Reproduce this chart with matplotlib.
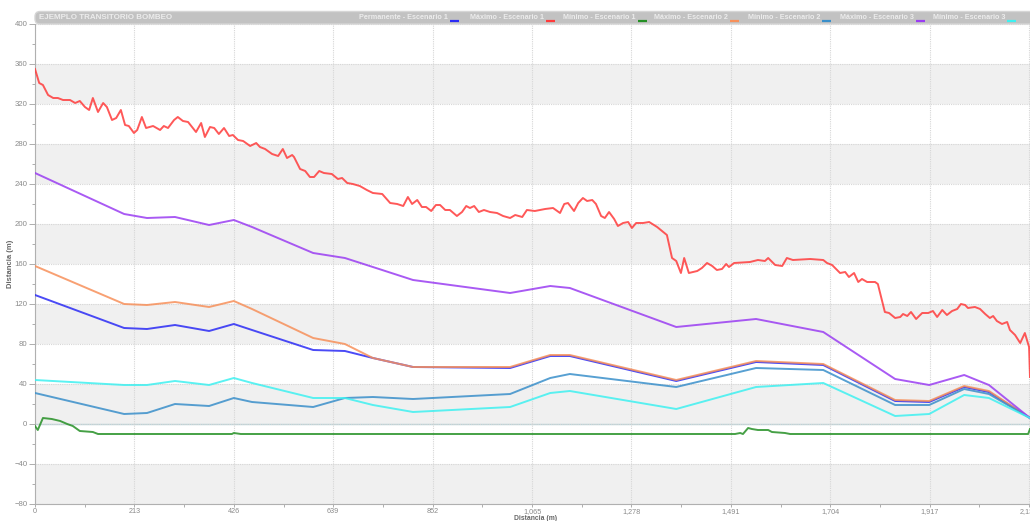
import matplotlib
matplotlib.use('Agg')
import matplotlib.pyplot as plt
from matplotlib.patches import FancyBboxPatch
from matplotlib.ticker import FuncFormatter, MultipleLocator, FixedLocator

plt.rcParams['font.family'] = ['Liberation Sans', 'DejaVu Sans']

W, H = 1030, 521

# Nodos del perfil (m) compartidos por las envolventes suaves
nodos = [0, 191, 240, 300, 373, 426, 465, 596, 664, 724, 810, 1018, 1104, 1146,
         1374, 1545, 1689, 1843, 1916, 1991, 2044, 2132]

permanente_e1 = [129, 96, 95, 99, 93, 100, 94, 74, 73, 66, 57, 56, 68, 68,
                 43, 62, 59, 23, 22, 37, 32, 6]
maximo_e2 = [158, 120, 119, 122, 117, 123, 115, 86, 80, 66, 57, 57, 69, 69,
             44, 63, 60, 24, 23, 38, 33, 6]
minimo_e2 = [31, 10, 11, 20, 18, 26, 22, 17, 26, 27, 25, 30, 46, 50,
             37, 56, 54, 19, 19, 35, 30, 6]
maximo_e3 = [251, 210, 206, 207, 199, 204, 197, 171, 166, 157, 144, 131, 138, 136,
             97, 105, 92, 45, 39, 49, 39, 6]
minimo_e3 = [44, 39, 39, 43, 39, 46, 41, 26, 26, 19, 12, 17, 31, 33,
             15, 37, 41, 8, 10, 29, 26, 6]

# Máximo - Escenario 1 (registro denso)
max_e1_x = [0, 9, 17, 28, 39, 49, 60, 75, 86, 96, 107, 116, 124, 135, 146, 154, 165, 174,
            184, 193, 201, 212, 219, 229, 238, 253, 268, 276, 285, 298, 306, 317, 328, 345,
            356, 364, 375, 384, 394, 405, 416, 424, 435, 446, 461, 474, 482, 493, 508, 521,
            531, 540, 551, 555, 568, 579, 589, 598, 609, 619, 636, 649, 658, 669, 681, 696,
            711, 724, 744, 761, 776, 789, 799, 808, 819, 829, 838, 849, 859, 868, 879, 889,
            904, 915, 924, 932, 941, 951, 962, 975, 990, 1003, 1018, 1029, 1044, 1054, 1071,
            1093, 1110, 1125, 1134, 1142, 1155, 1164, 1174, 1183, 1194, 1202, 1213, 1221,
            1230, 1241, 1249, 1260, 1271, 1279, 1288, 1303, 1316, 1333, 1354, 1365, 1374,
            1384, 1391, 1401, 1419, 1429, 1440, 1451, 1461, 1472, 1481, 1487, 1498, 1532,
            1549, 1564, 1571, 1586, 1601, 1611, 1624, 1661, 1689, 1697, 1708, 1725, 1736,
            1744, 1755, 1764, 1772, 1783, 1800, 1806, 1815, 1821, 1830, 1843, 1854, 1860,
            1869, 1877, 1888, 1901, 1914, 1924, 1933, 1944, 1954, 1965, 1976, 1984, 1993,
            1999, 2014, 2025, 2036, 2046, 2053, 2061, 2072, 2083, 2089, 2100, 2111, 2121,
            2130, 2132]
max_e1_y = [355, 341, 339, 329, 326, 326, 324, 324, 321, 323, 317, 314, 326, 312, 321, 317,
            304, 306, 314, 299, 298, 291, 294, 307, 296, 298, 294, 298, 296, 304, 307, 303,
            302, 292, 301, 287, 297, 296, 290, 296, 288, 289, 284, 283, 278, 281, 277, 275,
            270, 268, 275, 266, 269, 267, 255, 253, 247, 247, 253, 251, 250, 245, 246, 241,
            240, 238, 234, 231, 230, 221, 220, 218, 227, 220, 224, 217, 217, 213, 219, 219,
            214, 214, 208, 212, 218, 216, 218, 212, 214, 212, 211, 208, 206, 209, 207, 214,
            213, 215, 216, 211, 220, 221, 213, 221, 226, 223, 224, 220, 208, 206, 212, 205,
            198, 201, 202, 196, 201, 201, 202, 197, 189, 166, 163, 151, 166, 151, 153, 156,
            161, 158, 154, 155, 160, 157, 161, 162, 164, 163, 166, 159, 158, 166, 164, 165,
            164, 161, 159, 151, 152, 147, 151, 142, 145, 142, 142, 140, 123, 112, 111, 106,
            107, 110, 108, 112, 105, 111, 111, 113, 107, 114, 109, 113, 115, 120, 119, 116,
            117, 115, 110, 106, 108, 103, 100, 102, 94, 89, 81, 91, 77, 47]

# Mínimo - Escenario 1
min_e1_x = [0, 6, 17, 36, 54, 69, 81, 96, 124, 135, 422, 426, 441, 1500, 1511, 1517,
            1528, 1536, 1549, 1571, 1579, 1607, 1618, 2128, 2132]
min_e1_y = [-2, -6, 6, 5, 3, 0, -2, -7, -8, -10, -10, -9, -10, -10, -9, -10,
            -4, -5, -6, -6, -8, -9, -10, -10, -5]

series = [
    ('Permanente - Escenario 1', nodos, permanente_e1, '#2b2bf5'),
    ('Máximo - Escenario 1', max_e1_x, max_e1_y, '#ff3b3b'),
    ('Mínimo - Escenario 1', min_e1_x, min_e1_y, '#259025'),
    ('Máximo - Escenario 2', nodos, maximo_e2, '#f7905a'),
    ('Mínimo - Escenario 2', nodos, minimo_e2, '#3a8fca'),
    ('Máximo - Escenario 3', nodos, maximo_e3, '#9a3df2'),
    ('Mínimo - Escenario 3', nodos, minimo_e3, '#3ef0f0'),
]

x_ticks = [0, 213, 426, 639, 852, 1065, 1278, 1491, 1704, 1917, 2130]

fig = plt.figure(figsize=(W / 100, H / 100), dpi=100)
fig.patch.set_facecolor('white')
ax = fig.add_axes([35 / W, 1 - 504 / H, 995 / W, 480 / H])
ax.set_xlim(0, 2132)
ax.set_ylim(-80, 400)

# bandas alternas
for y0 in range(-80, 400, 80):
    ax.axhspan(y0, y0 + 40, color='#f0f0f0', zorder=0, lw=0)
ax.axhline(0, color='#b9d3d8', lw=1.0, zorder=1)

for name, xs, ys, col in series:
    ax.plot(xs, ys, color=col, lw=1.4, alpha=0.85, zorder=3, solid_joinstyle='round')

ax.xaxis.set_major_locator(FixedLocator(x_ticks))
ax.xaxis.set_minor_locator(FixedLocator([t + 106.5 for t in x_ticks]))
ax.yaxis.set_major_locator(MultipleLocator(40))
ax.yaxis.set_minor_locator(MultipleLocator(20))
ax.xaxis.set_major_formatter(FuncFormatter(lambda v, p: f'{v:,.0f}'))
ax.grid(True, which='major', color='#d6d6d6', lw=0.8, ls=(0, (1, 1)), zorder=1)
ax.tick_params(which='both', colors='#a0a0a0', labelcolor='#8a8a8a', labelsize=5.6,
               direction='out', width=0.6)
ax.tick_params(which='major', length=4, pad=1.5)
ax.tick_params(axis='x', which='major', length=2.5, pad=0.5, labelsize=5.2)
ax.tick_params(which='minor', length=2)
for side in ('top', 'right'):
    ax.spines[side].set_visible(False)
for side in ('left', 'bottom'):
    ax.spines[side].set_color('#b0b0b0')
    ax.spines[side].set_linewidth(0.8)

ax.set_ylabel('Distancia (m)', fontsize=5.5, fontweight='bold', color='#666666')
ax.yaxis.set_label_coords(-0.021, 0.5)
fig.text(535 / W, 1.2 / H, 'Distancia (m)', fontsize=4.9, fontweight='bold',
         color='#666666', ha='center', va='baseline')

# barra de título con leyenda
bar = fig.add_axes([35 / W, 1 - 24 / H, 995 / W, 13 / H])
bar.set_xlim(0, 995)
bar.set_ylim(0, 13)
bar.axis('off')
bar.add_patch(FancyBboxPatch((0, 0), 1010, 12.5, boxstyle='round,pad=0,rounding_size=5',
                             facecolor='#c2c2c2', edgecolor='#d6d6d6', lw=1.0, clip_on=False))
bar.text(4, 6.3, 'EJEMPLO TRANSITORIO BOMBEO', fontsize=5.8, fontweight='bold',
         color='#ececec', va='center', ha='left')

legend_left = [359, 470, 563, 654, 748, 840, 933]
fig.canvas.draw()
for (name, xs, ys, col), lx in zip(series, legend_left):
    t = bar.text(lx - 35, 6.3, name, fontsize=5.2, fontweight='bold', color='#ececec',
                 va='center', ha='left')
    bb = t.get_window_extent(renderer=fig.canvas.get_renderer())
    sx = bb.x1 - 35 + 2
    bar.plot([sx, sx + 9], [2.5, 2.5], color=col, lw=1.6, solid_capstyle='butt', clip_on=False)

fig.savefig('out.png', dpi=100, facecolor='white')
